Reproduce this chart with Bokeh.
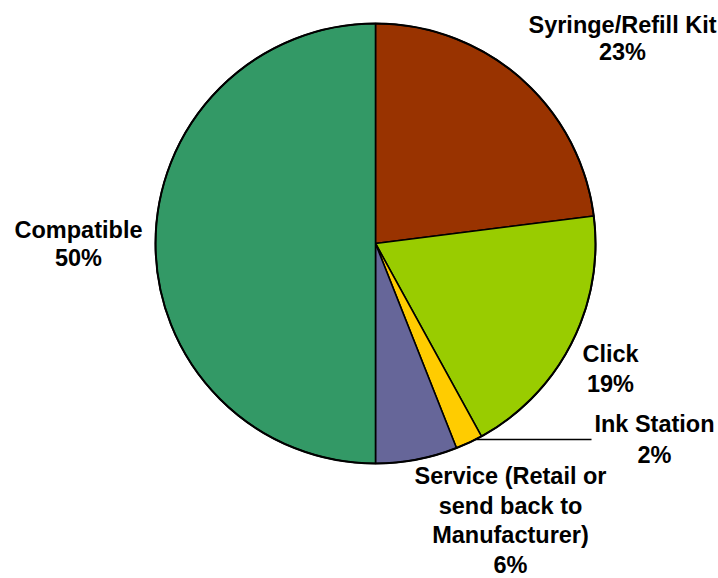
import math
from bokeh.plotting import figure
from bokeh.models import Range1d, ColumnDataSource
from bokeh.core.properties import value
from bokeh.embed import file_html
from bokeh.resources import INLINE

# ---- data ----
categories = ["Syringe/Refill Kit", "Click", "Ink Station",
              "Service (Retail or\nsend back to\nManufacturer)", "Compatible"]
shares = [23, 19, 2, 6, 50]
colors = ["#993300", "#99CC00", "#FFCC00", "#666699", "#339966"]

# ---- layout (pixels from top-left) ----
W, H = 718, 578
CX, CY, R = 375, 243, 220
FONT = "Liberation Sans"
FS = 23.5
label_pos = [(622, 33, 27), (610, 362, 30), (654, 432, 31), (510, 484, 29.7), (78, 238, 28)]

p = figure(width=W, height=H, x_range=Range1d(0, W), y_range=Range1d(0, H),
           x_axis_type=None, y_axis_type=None, toolbar_location=None,
           output_backend="svg", min_border=0)
p.outline_line_color = None
p.grid.visible = False
p.background_fill_color = "white"
p.border_fill_color = "white"

total = float(sum(shares))
starts, ends, cum = [], [], 0.0
for s in shares:
    a0 = math.pi / 2 - 2 * math.pi * cum / total
    cum += s
    a1 = math.pi / 2 - 2 * math.pi * cum / total
    starts.append(a1)
    ends.append(a0)

src = ColumnDataSource(dict(x=[CX] * len(shares), y=[H - CY] * len(shares),
                            start=starts, end=ends, color=colors))
p.wedge(x="x", y="y", radius=R, start_angle="start", end_angle="end",
        fill_color="color", line_color="black", line_width=1.6, source=src)
# outer rim
p.circle(x=[CX], y=[H - CY], radius=R, fill_color=None, line_color="black", line_width=2)

# leader line for Ink Station
mid = (starts[2] + ends[2]) / 2
lx0 = CX + R * math.cos(mid)
p.line(x=[lx0 + 6, 591], y=[H - 439, H - 439], line_color="black", line_width=1.5)

xs, ys, texts = [], [], []
for cat, s, (lx, by, sp) in zip(categories, shares, label_pos):
    lines = cat.split("\n") + [f"{s}%"]
    for i, ln in enumerate(lines):
        xs.append(lx)
        # y given as the vertical middle of the capital letters
        ys.append(H - (by + i * sp - 8.5))
        texts.append(ln)
p.text(x=xs, y=ys, text=texts, text_font=value(FONT), text_font_size=f"{FS}px",
       text_font_style="bold", text_align="center", text_baseline="middle",
       text_color="black")

open("out.html", "w").write(file_html(p, INLINE))
